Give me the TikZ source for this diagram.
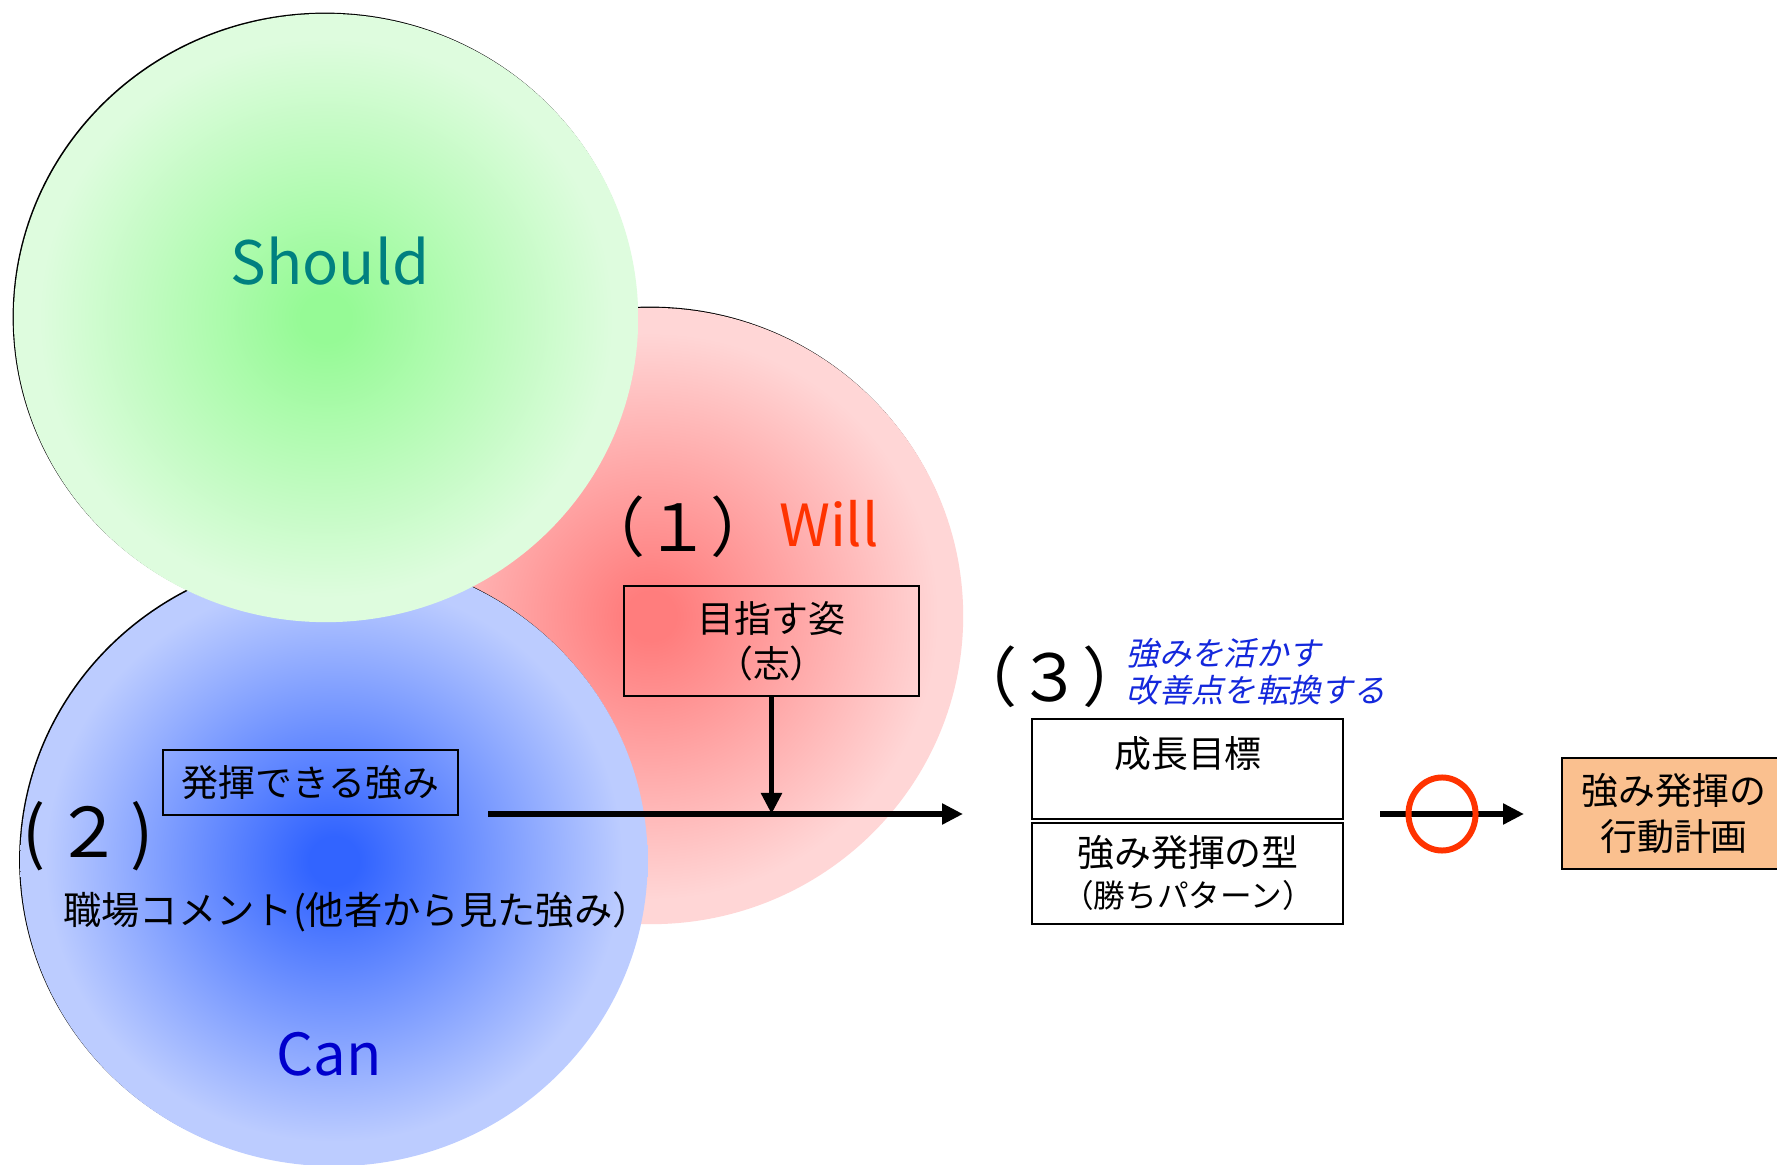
\documentclass[tikz,border=0pt]{standalone}
\usepackage{fontspec}
\setmainfont{Noto Sans CJK JP}
\newfontfamily\slantjp[FakeSlant=0.22]{Noto Sans CJK JP}
\usetikzlibrary{shapes.geometric,arrows.meta,calc}
\definecolor{gIn}{RGB}{150,250,150}
\definecolor{gOut}{RGB}{222,252,222}
\definecolor{rIn}{RGB}{255,125,125}
\definecolor{rOut}{RGB}{255,214,214}
\definecolor{bIn}{RGB}{50,100,255}
\definecolor{bOut}{RGB}{188,204,255}
\definecolor{tealS}{RGB}{0,128,128}
\definecolor{willC}{RGB}{255,51,0}
\definecolor{canC}{RGB}{0,0,204}
\definecolor{noteC}{RGB}{20,40,220}
\definecolor{orangeF}{RGB}{250,192,143}
\pgfdeclareradialshading{greensh}{\pgfpoint{0bp}{0bp}}{color(0bp)=(gIn); color(2bp)=(gIn); color(23bp)=(gOut); color(50bp)=(gOut)}
\pgfdeclareradialshading{redsh}{\pgfpoint{0bp}{0bp}}{color(0bp)=(rIn); color(2bp)=(rIn); color(23bp)=(rOut); color(50bp)=(rOut)}
\pgfdeclareradialshading{bluesh}{\pgfpoint{0bp}{0bp}}{color(0bp)=(bIn); color(2bp)=(bIn); color(23bp)=(bOut); color(50bp)=(bOut)}
\tikzset{
  blob/.style={ellipse, inner sep=0pt, outer sep=0pt, draw=none},
  blobshadow/.style={blob, fill=black},
  boxed/.style={draw=black, line width=0.6pt, inner sep=0pt, align=center,
    font=\fontsize{10.5}{12.8}\selectfont},
  plain/.style={inner sep=0pt, align=center, font=\fontsize{10.5}{12.8}\selectfont},
  arr/.style={line width=1.6pt, -{Triangle[length=0.21cm,width=0.2cm]}},
  numlabel/.style={inner sep=0pt}
}
\newcommand{\trimparen}[1]{\kern-0.5em #1\kern-0.5em}
\begin{document}
\begin{tikzpicture}[x=0.01cm,y=-0.01cm]
\clip (0,0) rectangle (1777,1165);
\fill[white] (0,0) rectangle (1777,1165);
% circles
\node[blobshadow, minimum width=6.24cm, minimum height=6.16cm] (wills) at (649.8,614.8) {};
\node[blob, shade, shading=redsh, minimum width=6.24cm, minimum height=6.16cm] (willc) at (651,616) {};
\node[blobshadow, minimum width=6.27cm, minimum height=6.10cm] (cans) at (332.8,859.8) {};
\node[blob, shade, shading=bluesh, minimum width=6.27cm, minimum height=6.10cm] (canc) at (334,861) {};
\node[blobshadow, minimum width=6.24cm, minimum height=6.08cm] (shoulds) at (324.8,316.8) {};
\node[blob, shade, shading=greensh, minimum width=6.24cm, minimum height=6.08cm] (shouldc) at (326,318) {};
% circle labels
\node[numlabel, text=tealS, font=\fontsize{17}{20}\selectfont] (tshould) at (330,261) {Should};
\node[numlabel, text=willC, font=\fontsize{16.5}{20}\selectfont] (twill) at (829,524) {Will};
\node[numlabel, text=canC, font=\fontsize{16.5}{20}\selectfont] (tcan) at (329,1054) {Can};
\node[numlabel, font=\fontsize{18.5}{20}\selectfont] (n1) at (678,527) {\trimparen{（１）}};
\node[numlabel, anchor=west, font=\fontsize{19.5}{20}\selectfont] (n2) at (22,836) {(\kern0.12em２\kern0.12em)};
\node[numlabel, font=\fontsize{18.5}{20}\selectfont] (n3) at (1050,677) {\trimparen{（３）}};
% boxes
\node[boxed, minimum width=2.95cm, minimum height=1.10cm] (willbox) at (771.5,641) {目指す姿\\（志）};
\node[boxed, minimum width=2.95cm, minimum height=0.65cm] (canbox) at (310.5,782.5) {発揮できる強み};
\node[inner sep=0pt, font=\fontsize{10.9}{12.8}\selectfont] (comment) at (357,912) {職場コメント(他者から見た強み）};
\node[inner sep=0pt, anchor=west, align=left, text=noteC, font=\slantjp\fontsize{9.2}{10.5}\selectfont] (note) at (1126,672) {強みを活かす\\改善点を転換する};
% box 3
\node[boxed, minimum width=3.11cm, minimum height=1.00cm] (goaltop) at (1187.5,769) {};
\node[boxed, minimum width=3.11cm, minimum height=1.01cm] (goalbot) at (1187.5,873.5) {};
\node[plain] (tgoal) at (1188,754) {成長目標};
\node[plain] (tpat) at (1188,853) {強み発揮の型};
\node[inner sep=0pt, font=\fontsize{9}{10}\selectfont] (tpat2) at (1188,895) {（勝ちパターン）};
% orange box
\node[boxed, fill=orangeF, minimum width=2.24cm, minimum height=1.11cm] (plan) at (1674,813.5) {強み発揮の\\行動計画};
% arrows
\coordinate (a1s) at (488,814);
\coordinate (a1e) at (963,814);
\draw[arr] (a1s) -- (a1e);
\draw[arr] (willbox.south) -- (willbox.south |- a1s);
\coordinate (a2s) at (1380,814);
\coordinate (a2e) at (1524,814);
\draw[arr] (a2s) -- (a2e);
\node[ellipse, draw=willC, line width=1.7pt, inner sep=0pt, minimum width=0.67cm, minimum height=0.73cm] (ring) at (1442,814) {};
\end{tikzpicture}
\end{document}
